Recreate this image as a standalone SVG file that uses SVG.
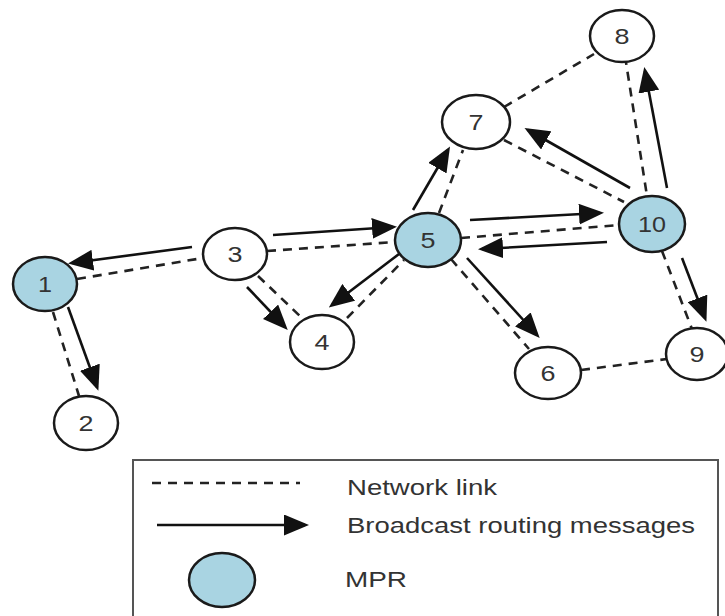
<svg xmlns="http://www.w3.org/2000/svg" width="725" height="616" viewBox="0 0 725 616">
<defs>
<style>
.node{fill:#ffffff;stroke:#1a1a1a;stroke-width:2.5}
.mpr{fill:#a9d4e2;stroke:#1a1a1a;stroke-width:2.5}
.lbl{font-family:"Liberation Sans",Arial,sans-serif;font-size:22px;fill:#333;text-anchor:middle}
.leg{font-family:"Liberation Sans",Arial,sans-serif;font-size:22px;fill:#333}
.link{stroke:#222;stroke-width:2.6;stroke-dasharray:9 7;fill:none}
.msg{stroke:#111;stroke-width:2.6;fill:none;marker-end:url(#ah)}
</style>
<marker id="ah" markerUnits="userSpaceOnUse" markerWidth="25" markerHeight="21" refX="21" refY="10.5" orient="auto">
<path d="M0,0 L25,10.5 L0,21 z" fill="#111"/>
</marker>
</defs>
<rect width="725" height="616" fill="#ffffff"/>
<g id="connectors">
<line class="link" x1="53" y1="312" x2="79" y2="396"/>
<line class="link" x1="77" y1="279" x2="203" y2="258"/>
<line class="link" x1="267" y1="251" x2="395" y2="242"/>
<line class="link" x1="258" y1="276" x2="302" y2="318"/>
<line class="link" x1="347" y1="318" x2="404" y2="260"/>
<line class="link" x1="439" y1="213" x2="463" y2="150"/>
<line class="link" x1="504" y1="107" x2="594" y2="54"/>
<line class="link" x1="504" y1="140" x2="624" y2="202"/>
<line class="link" x1="625" y1="56" x2="647" y2="196"/>
<line class="link" x1="461" y1="238" x2="619" y2="225"/>
<line class="link" x1="451" y1="259" x2="529" y2="349"/>
<line class="link" x1="662" y1="251" x2="692" y2="329"/>
<line class="link" x1="581" y1="370" x2="667" y2="359"/>
<line class="msg" x1="192" y1="247" x2="72" y2="263"/>
<line class="msg" x1="68" y1="307" x2="97" y2="387"/>
<line class="msg" x1="247" y1="287" x2="285" y2="327"/>
<line class="msg" x1="273" y1="235" x2="393" y2="227"/>
<line class="msg" x1="399" y1="254" x2="332" y2="305"/>
<line class="msg" x1="413" y1="210" x2="448" y2="150"/>
<line class="msg" x1="470" y1="220" x2="600" y2="213"/>
<line class="msg" x1="607" y1="242" x2="482" y2="249"/>
<line class="msg" x1="630" y1="188" x2="528" y2="130"/>
<line class="msg" x1="667" y1="188" x2="645" y2="71"/>
<line class="msg" x1="682" y1="258" x2="705" y2="318"/>
<line class="msg" x1="467" y1="258" x2="537" y2="335"/>
</g>
<g id="node1"><ellipse class="mpr" cx="45" cy="284" rx="32" ry="27"/><text class="lbl" x="45" y="292" textLength="14" lengthAdjust="spacingAndGlyphs">1</text></g>
<g id="node2"><ellipse class="node" cx="86" cy="423" rx="32" ry="27"/><text class="lbl" x="86" y="431" textLength="15" lengthAdjust="spacingAndGlyphs">2</text></g>
<g id="node3"><ellipse class="node" cx="235" cy="254" rx="32" ry="26"/><text class="lbl" x="235" y="262" textLength="15" lengthAdjust="spacingAndGlyphs">3</text></g>
<g id="node4"><ellipse class="node" cx="322" cy="342" rx="32" ry="27"/><text class="lbl" x="322" y="350" textLength="15" lengthAdjust="spacingAndGlyphs">4</text></g>
<g id="node5"><ellipse class="mpr" cx="428" cy="240" rx="33" ry="27"/><text class="lbl" x="428" y="248" textLength="15" lengthAdjust="spacingAndGlyphs">5</text></g>
<g id="node6"><ellipse class="node" cx="548" cy="373" rx="33" ry="26"/><text class="lbl" x="548" y="381" textLength="15" lengthAdjust="spacingAndGlyphs">6</text></g>
<g id="node7"><ellipse class="node" cx="476" cy="122" rx="34" ry="27"/><text class="lbl" x="476" y="130" textLength="15" lengthAdjust="spacingAndGlyphs">7</text></g>
<g id="node8"><ellipse class="node" cx="622" cy="36" rx="32" ry="26"/><text class="lbl" x="622" y="44" textLength="15" lengthAdjust="spacingAndGlyphs">8</text></g>
<g id="node9"><ellipse class="node" cx="697" cy="354" rx="31" ry="26"/><text class="lbl" x="697" y="362" textLength="15" lengthAdjust="spacingAndGlyphs">9</text></g>
<g id="node10"><ellipse class="mpr" cx="652" cy="224" rx="33" ry="28"/><text class="lbl" x="652" y="232" textLength="28" lengthAdjust="spacingAndGlyphs">10</text></g>
<g id="legend">
<rect x="133" y="460" width="585" height="175" fill="none" stroke="#555" stroke-width="2"/>
<line class="link" x1="152" y1="483" x2="300" y2="483"/>
<line class="msg" x1="157" y1="525" x2="305" y2="525"/>
<ellipse class="mpr" cx="222" cy="580" rx="33" ry="27"/>
<text class="leg" x="347" y="495" textLength="150" lengthAdjust="spacingAndGlyphs">Network link</text>
<text class="leg" x="347" y="533" textLength="348" lengthAdjust="spacingAndGlyphs">Broadcast routing messages</text>
<text class="leg" x="345" y="587" textLength="62" lengthAdjust="spacingAndGlyphs">MPR</text>
</g>
</svg>
